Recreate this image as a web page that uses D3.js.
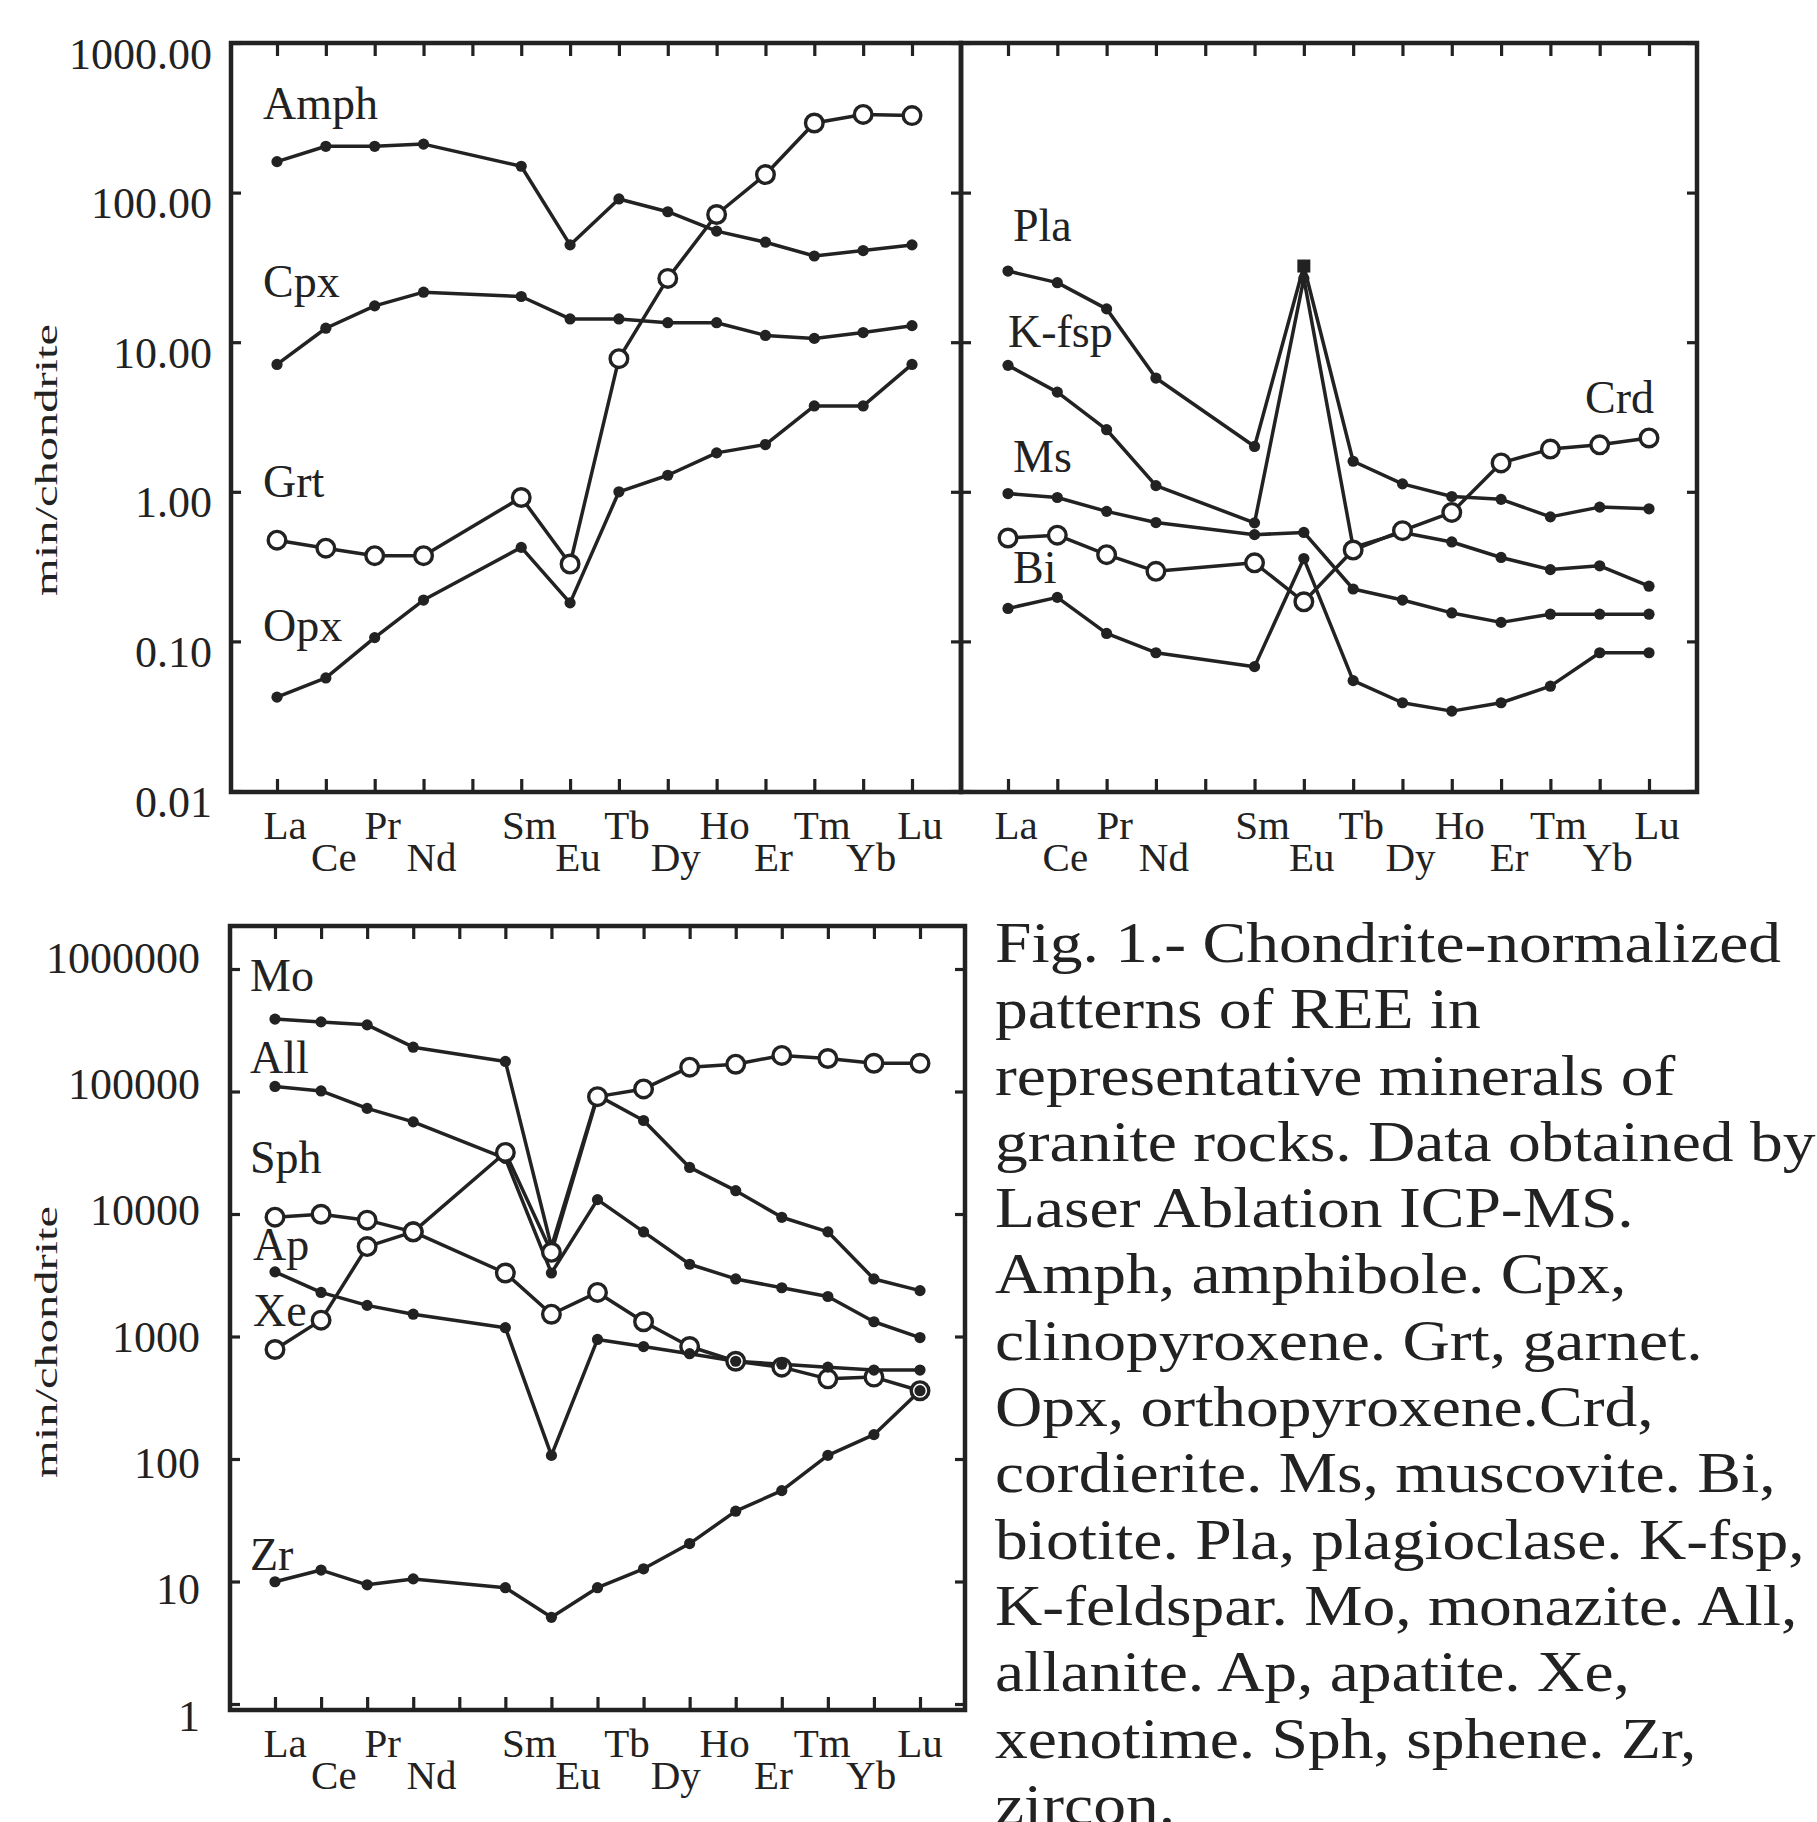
<!DOCTYPE html>
<html><head><meta charset="utf-8">
<script src="https://cdn.jsdelivr.net/npm/d3@7"></script>
<style>
html,body{margin:0;padding:0;background:#fff;}
svg{display:block;}
text{font-family:"Liberation Serif","DejaVu Serif",serif;fill:#222;}
</style></head><body>
<svg id="chart" width="1817" height="1822"></svg>
<script>
// ---------- DATA ----------
const posTop = ["La","Ce","Pr","Nd","Pm","Sm","Eu","Tb","Dy","Ho","Er","Tm","Yb","Lu"];
const posBottom = ["La","Ce","Pr","Nd","Pm","Sm","Eu","Gd","Tb","Dy","Ho","Er","Tm","Yb","Lu"];
const reeTop = ["La","Ce","Pr","Nd","Sm","Eu","Tb","Dy","Ho","Er","Tm","Yb","Lu"];
const reeBottom = ["La","Ce","Pr","Nd","Sm","Eu","Gd","Tb","Dy","Ho","Er","Tm","Yb","Lu"];
const xTickLabels = ["La","Ce","Pr","Nd","Sm","Eu","Tb","Dy","Ho","Er","Tm","Yb","Lu"];
const topYTicks = [0.01,0.1,1,10,100,1000];
const topYTickLabels = ["0.01","0.10","1.00","10.00","100.00","1000.00"];
const bottomYTicks = [1,10,100,1000,10000,100000,1000000];
const bottomYTickLabels = ["1","10","100","1000","10000","100000","1000000"];
const yTitle = "min/chondrite";

// top-left panel
const amph = [161,204,204,211,150,44.7,90.7,74.5,55.3,46.6,37.7,41,44.7];
const cpx  = [7.1,12.4,17.5,21.6,20.2,14.3,14.3,13.5,13.5,11.1,10.6,11.6,12.9];
const grt  = [0.475,0.42,0.374,0.374,0.916,0.329,7.76,26.7,71.4,132,292,333,327];
const opx  = [0.0424,0.057,0.106,0.189,0.425,0.181,1.0,1.29,1.82,2.07,3.75,3.75,7.1];
// top-right panel
const pla  = [29.9,25,16.7,5.76,2.01,32.3,1.6,1.13,0.93,0.89,0.68,0.79,0.77];
const kfsp = [7.0,4.64,2.6,1.1,0.62,26.7,0.425,0.535,0.462,0.364,0.302,0.32,0.234];
const ms   = [0.973,0.916,0.74,0.623,0.517,0.535,0.224,0.189,0.155,0.134,0.152,0.152,0.152];
const crd  = [0.491,0.513,0.38,0.294,0.335,0.184,0.408,0.55,0.728,1.56,1.93,2.06,2.29];
const bi   = [0.166,0.197,0.113,0.084,0.0678,0.358,0.0547,0.0389,0.0342,0.0389,0.0502,0.084,0.084];
// bottom panel
const mo   = [390000,370000,350000,230000,176000,5400,93000,58000,24000,15500,9400,7150,2950,2370];
const all  = [110000,101000,72800,56500,28400,3300,13100,7140,3890,2950,2500,2120,1320,980];
const sph  = [9420,9950,8910,7150,3300,1520,2290,1320,828,628,562,451,466,361];
const ap   = [3370,2290,1795,1520,1180,107,946,828,724,628,594,562,532,532];
const xe   = [783,1360,5420,7150,31800,4870,90800,105000,158000,167000,197000,186000,170000,170000];
const zr   = [9.95,12.4,9.4,10.5,8.9,5.1,8.9,12.7,20.4,37.5,55.2,107,158,361];

const captionLines = [
  "Fig. 1.- Chondrite-normalized",
  "patterns of REE in",
  "representative minerals of",
  "granite rocks. Data obtained by",
  "Laser Ablation ICP-MS.",
  "Amph, amphibole. Cpx,",
  "clinopyroxene. Grt, garnet.",
  "Opx, orthopyroxene.Crd,",
  "cordierite. Ms, muscovite. Bi,",
  "biotite. Pla, plagioclase. K-fsp,",
  "K-feldspar. Mo, monazite. All,",
  "allanite. Ap, apatite. Xe,",
  "xenotime. Sph, sphene. Zr,",
  "zircon."
];

// ---------- DRAWING ----------
const INK = "#222";
const svg = d3.select("#chart");
svg.append("rect").attr("width",1817).attr("height",1822).attr("fill","#fff");

function cleanAxis(sel){
  sel.select(".domain").remove();
  sel.selectAll(".tick line").attr("stroke",INK).attr("stroke-width",3.2);
  sel.selectAll(".tick text").remove();
}

function drawPanel(cfg){
  const {x,y,x0,x1,y0,y1,ree,series} = cfg;
  const g = svg.append("g");
  g.append("g").attr("transform",`translate(0,${y1})`)
    .call(d3.axisBottom(x).tickSize(-13).tickFormat("")).call(cleanAxis);
  g.append("g").attr("transform",`translate(0,${y0})`)
    .call(d3.axisTop(x).tickSize(-13).tickFormat("")).call(cleanAxis);
  g.append("g").attr("transform",`translate(${x0},0)`)
    .call(d3.axisLeft(y).tickValues(cfg.yTicks).tickSize(-10).tickFormat("")).call(cleanAxis);
  g.append("g").attr("transform",`translate(${x1},0)`)
    .call(d3.axisRight(y).tickValues(cfg.yTicks).tickSize(-10).tickFormat("")).call(cleanAxis);
  g.append("rect").attr("x",x0).attr("y",y0).attr("width",x1-x0).attr("height",y1-y0)
    .attr("fill","none").attr("stroke",INK).attr("stroke-width",4.5);

  const line = d3.line().x(d=>x(d.el)).y(d=>y(d.v));
  series.forEach(s=>{
    s.pts = s.values.map((v,i)=>({el:ree[i], v}));
    g.append("path").attr("d",line(s.pts)).attr("fill","none")
      .attr("stroke",INK).attr("stroke-width",3.5).attr("stroke-linejoin","round");
  });
  series.forEach(s=>{
    s.pts.forEach(p=>{
      if (s.square === p.el){
        g.append("rect").attr("x",x(p.el)-6.5).attr("y",y(p.v)-6.5).attr("width",13).attr("height",13).attr("fill",INK);
      } else if (s.marker==="ring"){
        g.append("circle").attr("cx",x(p.el)).attr("cy",y(p.v)).attr("r",8.8)
          .attr("fill","#fff").attr("stroke",INK).attr("stroke-width",3.4);
      } else {
        g.append("circle").attr("cx",x(p.el)).attr("cy",y(p.v)).attr("r",5.6).attr("fill",INK);
      }
    });
    const L = s.label;
    g.append("text").attr("x",x(L.at)+L.dx).attr("y",y(L.v))
      .attr("text-anchor",L.anchor||"start").attr("font-size",46).text(s.name);
  });
  return g;
}

function yTickLabels(scale, xRight, vals, labels){
  const m = new Map(vals.map((v,i)=>[v,labels[i]]));
  svg.append("g").attr("transform",`translate(${xRight},0)`)
    .call(d3.axisLeft(scale).tickValues(vals).tickSize(0).tickPadding(0).tickFormat(d=>m.get(d)))
    .call(sel=>{
      sel.select(".domain").remove();
      sel.selectAll(".tick text").attr("font-size",44)
        .attr("font-family","Liberation Serif, serif").attr("fill",INK);
    });
}

function xTickLabelRows(labelScale, yBase){
  svg.append("g").selectAll("text").data(xTickLabels).join("text")
    .attr("x",d=>labelScale(d)+8)
    .attr("y",(d,i)=> i%2===0 ? yBase+47 : yBase+79)
    .attr("text-anchor","middle").attr("font-size",41).text(d=>d);
}

function yAxisTitle(cx, cy){
  svg.append("text").attr("transform",`translate(${cx},${cy}) rotate(-90)`)
    .attr("text-anchor","middle").attr("dominant-baseline","central")
    .attr("font-size",32).attr("textLength",272).attr("lengthAdjust","spacingAndGlyphs")
    .text(yTitle);
}

// Top panels
const yTop = d3.scaleLog().domain([0.01,1000]).range([791,43]);
const yTopLabel = d3.scaleLog().domain([0.01,1000]).range([802,54]);
const xTL = d3.scalePoint().domain(posTop).range([277,912]);
const xTR = d3.scalePoint().domain(posTop).range([1008,1649]);

drawPanel({x:xTL, y:yTop, x0:231, x1:961, y0:43, y1:792, ree:reeTop, yTicks:topYTicks,
  series:[
    {name:"Amph", values:amph, marker:"dot",  label:{at:"La",dx:-14,v:310}},
    {name:"Cpx",  values:cpx,  marker:"dot",  label:{at:"La",dx:-14,v:20}},
    {name:"Grt",  values:grt,  marker:"ring", label:{at:"La",dx:-14,v:0.92}},
    {name:"Opx",  values:opx,  marker:"dot",  label:{at:"La",dx:-14,v:0.1}}
  ]});
drawPanel({x:xTR, y:yTop, x0:961, x1:1697, y0:43, y1:792, ree:reeTop, yTicks:topYTicks,
  series:[
    {name:"Pla",   values:pla,  marker:"dot", square:"Eu", label:{at:"La",dx:5,v:47.5}},
    {name:"K-fsp", values:kfsp, marker:"dot",  label:{at:"La",dx:0,v:9.3}},
    {name:"Ms",    values:ms,   marker:"dot",  label:{at:"La",dx:5,v:1.36}},
    {name:"Crd",   values:crd,  marker:"ring", label:{at:"Lu",dx:5,v:3.37,anchor:"end"}},
    {name:"Bi",    values:bi,   marker:"dot",  label:{at:"La",dx:5,v:0.245}}
  ]});
yTickLabels(yTopLabel, 212, topYTicks, topYTickLabels);
xTickLabelRows(xTL, 792);
xTickLabelRows(xTR, 792);
yAxisTitle(46, 460);

// Bottom panel
const yBot = d3.scaleLog().domain([1,1e6]).range([1704,969]);
const yBotLabel = d3.scaleLog().domain([1,1e6]).range([1716,958]);
const xB = d3.scalePoint().domain(posBottom).range([275,920]);
drawPanel({x:xB, y:yBot, x0:230, x1:965, y0:926, y1:1710, ree:reeBottom, yTicks:bottomYTicks,
  series:[
    {name:"Mo",  values:mo,  marker:"dot",  label:{at:"La",dx:-25,v:660000}},
    {name:"All", values:all, marker:"dot",  label:{at:"La",dx:-25,v:142000}},
    {name:"Sph", values:sph, marker:"ring", label:{at:"La",dx:-25,v:21600}},
    {name:"Ap",  values:ap,  marker:"dot",  label:{at:"La",dx:-22,v:4200}},
    {name:"Xe",  values:xe,  marker:"ring", label:{at:"La",dx:-22,v:1220}},
    {name:"Zr",  values:zr,  marker:"dot",  label:{at:"La",dx:-25,v:12.4}}
  ]});
yTickLabels(yBotLabel, 200, bottomYTicks, bottomYTickLabels);
xTickLabelRows(xTL, 1710);
yAxisTitle(46, 1342);

// Caption (last line runs off the bottom edge, as in the reference)
const cap = svg.append("g").attr("transform","translate(995,962) scale(1.17,1)");
cap.selectAll("text").data(captionLines).join("text")
  .attr("x",0).attr("y",(d,i)=>i*66.3).attr("font-size",56).text(d=>d);
</script></body></html>
